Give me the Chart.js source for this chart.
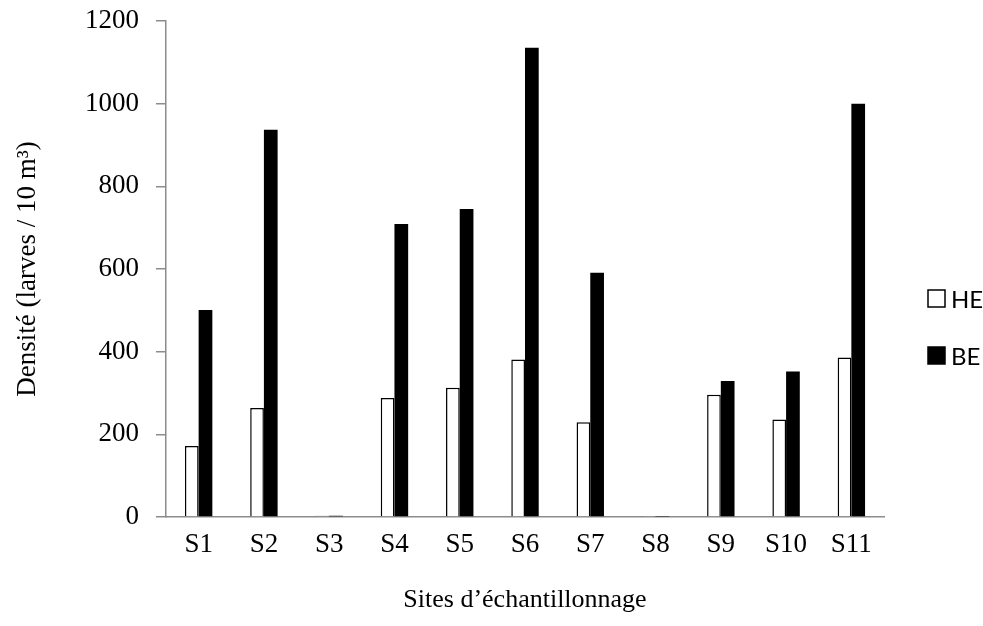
<!DOCTYPE html>
<html>
<head>
<meta charset="utf-8">
<script src="https://cdn.jsdelivr.net/npm/chart.js@4.4.0/dist/chart.umd.min.js"></script>
<style>
    body { margin: 0; background: #ffffff; }
    #ChartDensite { display: block; }
</style>
</head>
<body>
<canvas id="ChartDensite" width="983" height="626"></canvas>
<script>
var sites = ['S1', 'S2', 'S3', 'S4', 'S5', 'S6', 'S7', 'S8', 'S9', 'S10', 'S11'];
var heValues = [172, 264, 3, 288, 313, 381, 229, 1, 296, 236, 386];
var beValues = [501, 937, 3, 709, 745, 1135, 591, 1, 329, 352, 1000];
var seriesNames = ['HE', 'BE'];
var yMin = 0;
var yMax = 1200;
var yStep = 200;

var serifFont = "'Liberation Serif', 'Times New Roman', serif";
var sansFont = "Lato, 'Liberation Sans', Arial, sans-serif";

// legend drawn by hand on the right, like the original
var sideLegend = {
    id: 'sideLegend',
    afterDraw: function (chart) {
        var ctx = chart.ctx;
        var rows = [299, 356];
        ctx.save();
        ctx.font = '24px ' + sansFont;
        ctx.textBaseline = 'middle';
        ctx.textAlign = 'left';
        for (var i = 0; i < chart.data.datasets.length; i++) {
            var ds = chart.data.datasets[i];
            ctx.fillStyle = ds.backgroundColor;
            ctx.fillRect(928, rows[i] - 9, 17, 17);
            ctx.strokeStyle = '#000000';
            ctx.lineWidth = 1.5;
            ctx.strokeRect(928, rows[i] - 9, 17, 17);
            ctx.fillStyle = '#000000';
            ctx.fillText(ds.label, 951, rows[i] + 1);
        }
        ctx.restore();
    }
};

new Chart(document.getElementById('ChartDensite'), {
    type: 'bar',
    data: {
        labels: sites,
        datasets: [
            {
                label: seriesNames[0],
                data: heValues,
                backgroundColor: '#ffffff',
                borderColor: '#000000',
                borderWidth: 1.5,
                borderSkipped: 'bottom'
            },
            {
                label: seriesNames[1],
                data: beValues,
                backgroundColor: '#000000',
                borderColor: '#000000',
                borderWidth: 0
            }
        ]
    },
    options: {
        responsive: false,
        devicePixelRatio: 1,
        animation: false,
        datasets: {
            bar: {
                categoryPercentage: 0.42,
                barPercentage: 1.0
            }
        },
        layout: {
            padding: { top: 21, right: 99, bottom: 0, left: 0 }
        },
        plugins: {
            legend: { display: false },
            tooltip: { enabled: false }
        },
        scales: {
            x: {
                afterFit: function (scale) { scale.height = 109; },
                grid: { display: false, drawTicks: false },
                border: { display: true, color: '#8c8c8c', width: 1.5 },
                ticks: {
                    color: '#000000',
                    padding: 12,
                    font: { family: serifFont, size: 27 }
                },
                title: {
                    display: true,
                    text: 'Sites d\u2019\u00e9chantillonnage',
                    color: '#000000',
                    padding: { top: 0, bottom: 10 },
                    font: { family: serifFont, size: 26 }
                }
            },
            y: {
                min: yMin,
                max: yMax,
                afterFit: function (scale) {
                    scale.width = 166;
                    scale.paddingTop = 0;
                    scale.paddingBottom = 0;
                },
                grid: {
                    display: true,
                    drawOnChartArea: false,
                    drawTicks: true,
                    tickLength: 10,
                    color: '#8c8c8c',
                    lineWidth: 1.5
                },
                border: { display: true, color: '#8c8c8c', width: 1.5 },
                ticks: {
                    stepSize: yStep,
                    color: '#000000',
                    padding: 17,
                    font: { family: serifFont, size: 27 },
                    callback: function (value) { return String(value); }
                },
                title: {
                    display: true,
                    text: 'Densit\u00e9 (larves / 10 m\u00b3)',
                    color: '#000000',
                    padding: { top: 12, bottom: 0 },
                    font: { family: serifFont, size: 27 }
                }
            }
        }
    },
    plugins: [sideLegend]
});
</script>
</body>
</html>
